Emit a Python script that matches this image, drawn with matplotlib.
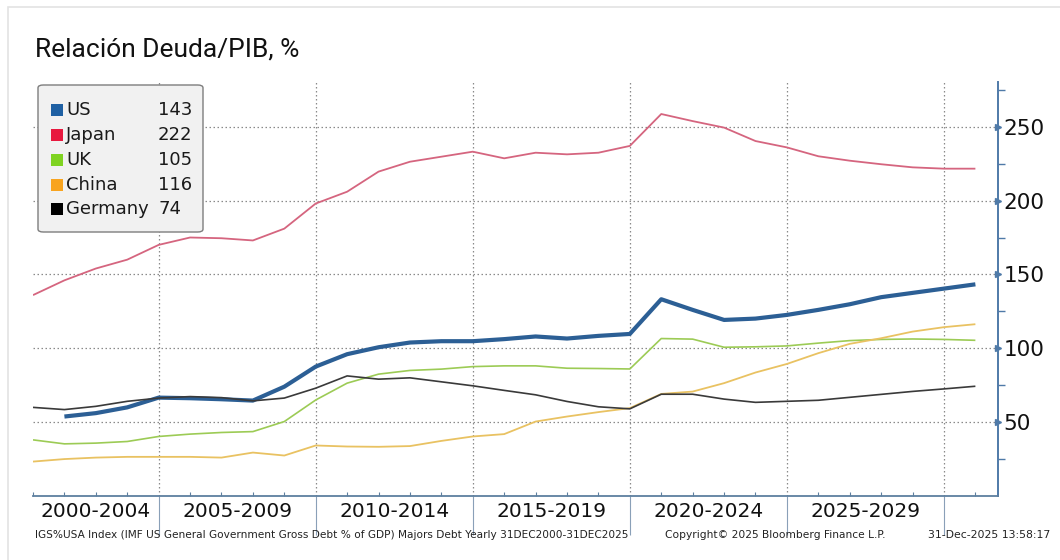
import numpy as np
import matplotlib
matplotlib.use("Agg")
import matplotlib.pyplot as plt
from matplotlib.patches import FancyBboxPatch, Rectangle
import matplotlib.transforms as mtransforms

# Yearly government gross debt, % of GDP (observations dated 31 Dec)
years = list(range(2000, 2031))
us = [np.nan, 53.8, 56.1, 60.0, 66.6, 66.2, 65.5, 64.6, 74.0, 87.6,
      96.0, 100.7, 103.9, 104.8, 104.8, 106.2, 108.0, 106.6, 108.4, 109.7,
      133.2, 126.0, 119.2, 120.1, 122.6, 126.0, 129.8, 134.6, 137.5, 140.4, 143.3]
japan = [136.0, 146.0, 154.0, 160.0, 170.0, 175.0, 174.5, 173.0, 181.0, 198.0,
         206.0, 219.6, 226.3, 229.7, 233.1, 228.6, 232.4, 231.3, 232.4, 237.0,
         258.6, 253.8, 249.4, 240.3, 236.0, 230.0, 227.0, 224.6, 222.5, 221.6, 221.6]
uk = [38.0, 35.3, 35.8, 36.9, 40.3, 41.9, 43.0, 43.6, 50.4, 65.0,
      76.4, 82.5, 85.0, 85.9, 87.6, 88.1, 88.1, 86.5, 86.3, 86.0,
      106.6, 106.2, 100.7, 101.0, 101.6, 103.5, 105.2, 106.0, 106.3, 106.0, 105.4]
china = [23.3, 25.0, 26.0, 26.5, 26.5, 26.5, 26.0, 29.4, 27.4, 34.2,
         33.5, 33.3, 33.8, 37.3, 40.3, 41.9, 50.4, 53.8, 56.8, 59.5,
         69.1, 70.7, 76.4, 83.6, 89.4, 96.7, 103.0, 106.8, 111.3, 114.3, 116.3]
germany = [60.0, 58.5, 60.7, 64.1, 66.3, 67.3, 66.6, 64.4, 66.3, 73.0,
           81.3, 79.1, 80.0, 77.3, 74.6, 71.5, 68.5, 64.0, 60.4, 59.0,
           68.9, 68.9, 65.6, 63.4, 64.1, 64.8, 66.8, 68.8, 70.8, 72.5, 74.3]

names = ["US", "Japan", "UK", "China", "Germany"]
series = [us, japan, uk, china, germany]
line_colors = ["#2c5f95", "#d5657f", "#9ccb55", "#e9c262", "#3a3a3a"]
line_widths = [3.0, 1.3, 1.2, 1.3, 1.2]
key_colors = ["#1f60a3", "#e8193f", "#7fd321", "#f8a41f", "#000000"]

period_starts = [2000, 2005, 2010, 2015, 2020, 2025]
period_labels = ["2000-2004", "2005-2009", "2010-2014", "2015-2019", "2020-2024", "2025-2029"]
y_major = [50, 100, 150, 200, 250]
y_minor = [25, 75, 125, 175, 225, 275]

title = "Relación Deuda/PIB, %"
footer_left = ("IGS%USA Index (IMF US General Government Gross Debt % of GDP) "
               "Majors Debt Yearly 31DEC2000-31DEC2025")
footer_mid = "Copyright\u00a9 2025 Bloomberg Finance L.P."
footer_right = "31-Dec-2025 13:58:17"

W, H = 1060, 560
fig = plt.figure(figsize=(W / 100, H / 100), dpi=100)
fig.patch.set_facecolor("white")

# light card outline
fig.patches.append(Rectangle((8 / W, -0.1), 1.2, 1 - 7 / H + 0.1, transform=fig.transFigure,
                             facecolor="none", edgecolor="#e3e3e3", lw=1.2, zorder=0))

ax_left, ax_right = 33 / W, 998 / W
ax_bottom, ax_top = 1 - 496 / H, 1 - 82.4 / H
ax = fig.add_axes([ax_left, ax_bottom, ax_right - ax_left, ax_top - ax_bottom])
ax.set_facecolor("white")

# x positions: each yearly observation is dated at year end
xpos = np.array(years, dtype=float) + 1.0
x0, x1 = 2001.0, 2031.72
ax.set_xlim(x0, x1)
ax.set_ylim(0, 280)

for i in range(len(series)):
    ax.plot(xpos, series[i], color=line_colors[i], lw=line_widths[i],
            solid_joinstyle="round", solid_capstyle="butt", zorder=3 + (1 if i == 4 else 0))

# grid
grid_kw = dict(color="#8a8a8a", lw=0.9, ls=(0, (1.2, 2.0)), zorder=1)
for v in y_major:
    ax.axhline(v, **grid_kw)
for p in period_starts[1:] + [2030]:
    ax.axvline(p, **grid_kw)

# spines
for s in ["left", "top"]:
    ax.spines[s].set_visible(False)
axis_col = "#4f7aa8"
ax.spines["right"].set_color(axis_col)
ax.spines["right"].set_linewidth(1.4)
ax.spines["bottom"].set_color("#5d7f9f")
ax.spines["bottom"].set_linewidth(1.3)
ax.spines["bottom"].set_linestyle((0, (3, 1)))

# y axis on the right with arrow-shaped major ticks
ax.yaxis.tick_right()
ax.set_yticks(y_major)
ax.set_yticks(y_minor, minor=True)
ax.tick_params(axis="y", which="major", length=0, pad=4, labelsize=15.5, labelcolor="#111111")
ax.tick_params(axis="y", which="minor", length=5, width=1.0, color=axis_col, direction="out")
ax.set_yticklabels([str(v) for v in y_major], fontfamily="DejaVu Sans")
trans_r = mtransforms.blended_transform_factory(ax.transAxes, ax.transData)
ax.plot([1.0] * len(y_major), y_major, ls="none", marker=">", ms=5, color=axis_col,
        transform=trans_r, clip_on=False, zorder=6)

# x axis: year ticks, long separators at period boundaries, centred period labels
ax.set_xticks([y + 1.0 for y in years if y + 1.0 <= x1], minor=True)
ax.tick_params(axis="x", which="minor", length=3, width=0.8, color="#5d7f9f", direction="in")
ax.set_xticks([p for p in period_starts[1:] + [2030]])
ax.tick_params(axis="x", which="major", length=28, width=0.8, color="#8aa0b8",
               direction="out", labelbottom=False)
trans_x = mtransforms.blended_transform_factory(ax.transData, ax.transAxes)
for p, lab in zip(period_starts, period_labels):
    lo, hi = max(p, x0), min(p + 5, x1)
    ax.text((lo + hi) / 2, -0.038, lab, transform=trans_x, ha="center", va="center",
            fontsize=14.5, color="#111111", fontfamily="DejaVu Sans")

# legend box with latest values
fig.patches.append(FancyBboxPatch((38 / W, 1 - 232 / H), 165 / W, 147 / H,
                                  boxstyle="round,pad=0,rounding_size=0.005",
                                  transform=fig.transFigure, facecolor="#f1f1f1",
                                  edgecolor="#7d7d7d", lw=1.0, zorder=5))
row_y = [110, 135, 160, 185, 209]
for name, vals, kc, ry in zip(names, series, key_colors, row_y):
    fig.patches.append(Rectangle((51 / W, 1 - (ry + 6) / H), 12 / W, 12 / H,
                                 transform=fig.transFigure, facecolor=kc,
                                 edgecolor="none", zorder=6))
    fig.text(66 / W, 1 - ry / H, name, ha="left", va="center", fontsize=13,
             color="#1a1a1a", zorder=7)
    fig.text(158 / W, 1 - ry / H, f"{vals[-1]:.0f}", ha="left", va="center",
             fontsize=13, color="#1a1a1a", zorder=7)

# title and footer
fig.text(35 / W, 1 - 50 / H, title, ha="left", va="center", fontsize=19,
         fontfamily="Roboto", color="#111111")
fig.text(35 / W, 1 - 535 / H, footer_left, ha="left", va="center", fontsize=7.55,
         color="#222222")
fig.text(775 / W, 1 - 535 / H, footer_mid, ha="center", va="center", fontsize=7.65,
         color="#222222")
fig.text(1050 / W, 1 - 535 / H, footer_right, ha="right", va="center", fontsize=7.8,
         color="#222222")

fig.savefig("out.png", dpi=100, facecolor="white")
